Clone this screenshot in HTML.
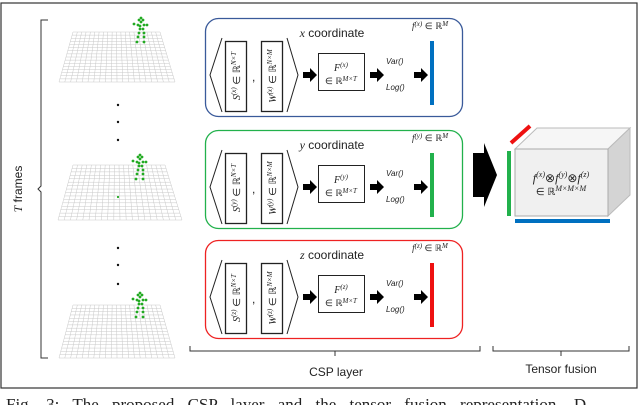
<!DOCTYPE html>
<html><head><meta charset="utf-8"><style>
html,body{margin:0;padding:0;background:#fff;}
svg{display:block;font-family:"Liberation Sans",sans-serif;}
.m{font-family:"Liberation Serif",serif;font-style:italic;}
</style></head><body>
<svg id="s" width="640" height="405" viewBox="0 0 640 405" xmlns="http://www.w3.org/2000/svg">
<rect x="1" y="3" width="636" height="385" fill="#fff" stroke="#333" stroke-width="1.2"/>
<g id="grids"></g>
<g fill="#111">
<circle cx="118" cy="105" r="1.2"/><circle cx="118" cy="122" r="1.2"/><circle cx="118" cy="140" r="1.2"/>
<circle cx="118" cy="248" r="1.2"/><circle cx="118" cy="265" r="1.2"/><circle cx="118" cy="284" r="1.2"/>
</g>
<path d="M48,20 H41 V186 L38,189 L41,192 V358 H48" fill="none" stroke="#333" stroke-width="1"/>
<text transform="translate(22,189) rotate(-90)" text-anchor="middle" font-size="12" fill="#222"><tspan class="m">T</tspan> frames</text>
<g id="rows"></g>
<path d="M473,153 H484 V143 L497,175 L484,207 V197 H473 Z" fill="#000"/>
<path d="M515,149 L537,128 L630,128 L608,149 Z" fill="#f6f6f6" stroke="#bbb"/>
<path d="M608,149 L630,128 L630,195 L608,216 Z" fill="#d4d4d4" stroke="#bbb"/>
<rect x="515" y="149" width="93" height="67" fill="#f0f0f0" stroke="#aaa"/>
<text x="561" y="182" text-anchor="middle" font-size="12" class="m" fill="#222">f<tspan font-size="8" dy="-5">(x)</tspan><tspan dy="5" font-style="normal">⊗</tspan>f<tspan font-size="8" dy="-5">(y)</tspan><tspan dy="5" font-style="normal">⊗</tspan>f<tspan font-size="8" dy="-5">(z)</tspan></text>
<text x="561" y="195" text-anchor="middle" font-size="10" fill="#222">∈ ℝ<tspan font-size="8" dy="-4" class="m">M×M×M</tspan></text>
<rect x="507" y="151" width="4" height="65" fill="#22b14c"/>
<line x1="511" y1="143" x2="530" y2="126" stroke="#ee1111" stroke-width="4"/>
<rect x="515" y="219" width="95" height="4" fill="#0070c0"/>
<path d="M190,346 V351 H480 V346 M335,351 V356" fill="none" stroke="#333"/>
<path d="M493,346 V351 H629 V346 M561,351 V356" fill="none" stroke="#333"/>
<text x="336" y="376" text-anchor="middle" font-size="12" fill="#222">CSP layer</text>
<text x="561" y="373" text-anchor="middle" font-size="12" fill="#222">Tensor fusion</text>
<text x="6" y="410" font-size="17" font-family="Liberation Serif,serif" fill="#222" word-spacing="9">Fig. 3: The proposed CSP layer and the tensor fusion representation. D</text>
</svg>
<script>
var NS="http://www.w3.org/2000/svg";
function el(p,t,a,txt){var e=document.createElementNS(NS,t);for(var k in a)e.setAttribute(k,a[k]);if(txt)e.innerHTML=txt;p.appendChild(e);return e;}
var g=document.getElementById('grids');
var planes=[[32,82,73,160,59,175,141,18],[165,220,73,165,58,182,140,155],[305,358,73,160,59,175,140,293]];
planes.forEach(function(p){
 var t=p[0],b=p[1],tl=p[2],tr=p[3],bl=p[4],br=p[5],n=20,m=16;
 var d="";
 for(var i=0;i<=n;i++){var f=i/n;d+="M"+(tl+(tr-tl)*f)+","+t+"L"+(bl+(br-bl)*f)+","+b;}
 for(var j=0;j<=m;j++){var f=j/m;var y=t+(b-t)*f;var l=tl+(bl-tl)*f,r=tr+(br-tr)*f;d+="M"+l+","+y+"L"+r+","+y;}
 el(g,'path',{d:d,fill:'none',stroke:'#c8c8c8','stroke-width':'0.5'});
 var cx=p[6],cy=p[7];
 var pts=[[0,0],[-2,2],[2,2],[0,4],[-7,6],[6,7],[-3,7],[3,7],[-1,11],[2,11],[-2,15],[3,15],[-3,19],[3,19],[-4,24],[3,24],[-1,8]];
 pts.forEach(function(q){el(g,'circle',{cx:cx+q[0],cy:cy+q[1],r:'1.4',fill:'#22aa22'});});
});
el(g,'circle',{cx:118,cy:197,r:'1.1',fill:'#22aa22'});
var rows=document.getElementById('rows');
var cfg=[[18,'#3a5a9a','#0070c0','x'],[130,'#22b14c','#22b14c','y'],[240,'#ee2222','#ee1111','z']];
cfg.forEach(function(c){
 var y=c[0],v=c[3];
 var G=el(rows,'g',{transform:'translate(0,'+y+')'});
 el(G,'rect',{x:205.5,y:0.5,width:257,height:98,rx:13,fill:'#fff',stroke:c[1],'stroke-width':'1.3'});
 el(G,'path',{d:'M222,20 L210,57 L222,94 M287,20 L298,57 L287,94',fill:'none',stroke:'#222','stroke-width':'1'});
 el(G,'rect',{x:225.5,y:23.5,width:21,height:70,fill:'#fff',stroke:'#222','stroke-width':'1.3'});
 el(G,'rect',{x:261.5,y:23.5,width:21,height:70,fill:'#fff',stroke:'#222','stroke-width':'1.3'});
 el(G,'text',{x:252,y:63,'font-size':'12',fill:'#222'},',');
 el(G,'text',{transform:'translate(240,58) rotate(-90)','text-anchor':'middle','font-size':'10',fill:'#222'},'<tspan class="m">S</tspan><tspan font-size="7" dy="-4" class="m">('+v+')</tspan><tspan dy="4"> ∈ ℝ</tspan><tspan font-size="7" dy="-4" class="m">N×T</tspan>');
 el(G,'text',{transform:'translate(276,58) rotate(-90)','text-anchor':'middle','font-size':'10',fill:'#222'},'<tspan class="m">W</tspan><tspan font-size="7" dy="-4" class="m">('+v+')</tspan><tspan dy="4"> ∈ ℝ</tspan><tspan font-size="7" dy="-4" class="m">N×M</tspan>');
 var ar=function(x){el(G,'path',{d:'M'+x+','+54+' h7 v-4 l7,7 l-7,7 v-4 h-7z',fill:'#000'});};
 ar(303);ar(370);ar(414);
 el(G,'rect',{x:318.5,y:35.5,width:46,height:37,fill:'#fff',stroke:'#222','stroke-width':'1'});
 el(G,'text',{x:341,y:53,'text-anchor':'middle','font-size':'10',fill:'#222'},'<tspan class="m">F</tspan><tspan font-size="7" dy="-4" class="m">('+v+')</tspan>');
 el(G,'text',{x:341,y:66,'text-anchor':'middle','font-size':'9',fill:'#222'},'∈ ℝ<tspan font-size="7" dy="-3" class="m">M×T</tspan>');
 el(G,'text',{x:386,y:46,'font-size':'8','font-style':'italic',fill:'#222'},'Var()');
 el(G,'text',{x:386,y:72,'font-size':'8','font-style':'italic',fill:'#222'},'Log()');
 el(G,'rect',{x:430,y:23,width:4,height:64,fill:c[2]});
 el(G,'text',{x:332,y:19,'text-anchor':'middle','font-size':'12',fill:'#222'},'<tspan class="m">'+v+'</tspan> coordinate');
 el(G,'text',{x:430,y:11,'text-anchor':'middle','font-size':'9',fill:'#222'},'<tspan class="m">f</tspan><tspan font-size="7" dy="-3" class="m">('+v+')</tspan><tspan dy="3"> ∈ ℝ</tspan><tspan font-size="7" dy="-3" class="m">M</tspan>');
});
</script>
</body></html>
